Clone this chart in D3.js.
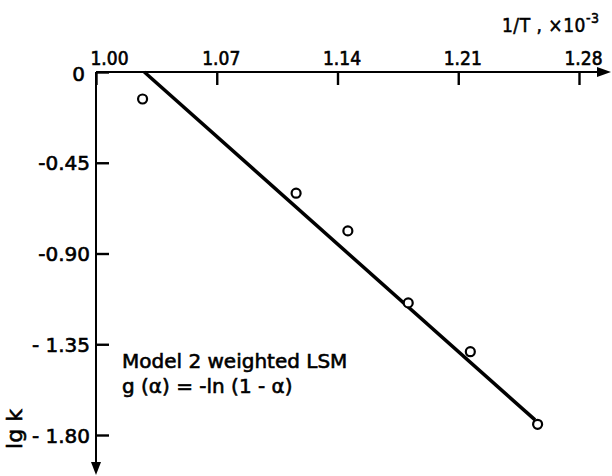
<!DOCTYPE html>
<html>
<head>
<meta charset="utf-8">
<script src="https://cdn.jsdelivr.net/npm/d3@7"></script>
<style>
  body { margin: 0; background: #fff; }
</style>
</head>
<body>
<div id="chart"></div>
<script>
// data
const xTicks = [1.00, 1.07, 1.14, 1.21, 1.28];
const yTicks = [0, -0.45, -0.90, -1.35, -1.80];
const yTickLabels = ['0', '-0.45', '-0.90', '- 1.35', '- 1.80'];
const invT = [1.027, 1.116, 1.146, 1.181, 1.217, 1.256];
const lgk = [-0.134, -0.601, -0.788, -1.145, -1.387, -1.747];
const fitX = [1.028, 1.2545];
const fitY = [0, -1.725];

const width = 612, height = 476;

const svg = d3.select('#chart').append('svg')
  .attr('width', width).attr('height', height);

const x = d3.scaleLinear().domain([1.00, 1.28]).range([96, 579]);
const y = d3.scaleLinear().domain([0, -1.80]).range([72, 435]);

const x0 = x(1.00), y0 = y(0);

// x axis on top; ticks hang down from the line
const xAxis = d3.axisTop(x)
  .tickValues(xTicks)
  .tickFormat(d3.format('.2f'))
  .tickSizeInner(-13)
  .tickSizeOuter(0)
  .tickPadding(7);

const gx = svg.append('g')
  .attr('transform', `translate(0, ${y0})`)
  .call(xAxis);
gx.select('.domain').remove();
gx.selectAll('.tick line')
  .attr('stroke', '#000')
  .attr('stroke-width', 2.4);
gx.selectAll('text')
  .attr('fill', '#000')
  .attr('stroke', '#000')
  .attr('stroke-width', 0.6)
  .style('font-family', '"DejaVu Sans Condensed", "DejaVu Sans", sans-serif')
  .style('font-stretch', 'condensed')
  .style('font-size', '19px')
  .attr('y', -7)
  .attr('dx', d => d === 1.00 ? 13 : 4);

// y axis; ticks point right, labels on the left
const yAxis = d3.axisLeft(y)
  .tickValues(yTicks)
  .tickFormat((d, i) => yTickLabels[i])
  .tickSizeInner(-13)
  .tickSizeOuter(0)
  .tickPadding(6);

const gy = svg.append('g')
  .attr('transform', `translate(${x0}, 0)`)
  .call(yAxis);
gy.select('.domain').remove();
gy.selectAll('.tick line')
  .attr('stroke', '#000')
  .attr('stroke-width', 2.4);
gy.selectAll('text')
  .attr('fill', '#000')
  .attr('stroke', '#000')
  .attr('stroke-width', 0.6)
  .style('font-family', '"DejaVu Sans", sans-serif')
  .style('font-size', '20px')
  .attr('x', -6)
  .attr('dx', d => d === 0 ? -5 : 0)
  .attr('dy', d => d === 0 ? '0.42em' : '0.35em');

// axis titles
svg.append('text')
  .attr('x', 502).attr('y', 32)
  .attr('fill', '#000')
  .attr('stroke', '#000')
  .attr('stroke-width', 0.5)
  .style('font-family', '"DejaVu Sans Condensed", "DejaVu Sans", sans-serif')
  .style('font-stretch', 'condensed')
  .style('font-size', '19px')
  .style('letter-spacing', '0.5px')
  .text('1/T , ×10')
  .append('tspan')
  .attr('dy', -9)
  .style('font-size', '14px')
  .text('-3');

svg.append('text')
  .attr('transform', 'translate(22, 429) rotate(-90)')
  .attr('text-anchor', 'middle')
  .attr('fill', '#000')
  .attr('stroke', '#000')
  .attr('stroke-width', 0.6)
  .style('font-family', '"DejaVu Sans", sans-serif')
  .style('font-size', '22px')
  .text('lg k');

// annotation
const note = svg.append('text')
  .attr('fill', '#000')
  .attr('stroke', '#000')
  .attr('stroke-width', 0.6)
  .style('font-family', '"DejaVu Sans", sans-serif')
  .style('font-size', '20px');
note.append('tspan').attr('x', 122).attr('y', 368).text('Model 2 weighted LSM');
note.append('tspan').attr('x', 122).attr('y', 393).text('g (α) = -ln (1 - α)');

// fitted line
svg.append('path')
  .datum(fitX.map((v, i) => [v, fitY[i]]))
  .attr('d', d3.line().x(d => x(d[0])).y(d => y(d[1])))
  .attr('fill', 'none')
  .attr('stroke', '#000')
  .attr('stroke-width', 3.5);

// data points
svg.selectAll('.pt')
  .data(invT.map((v, i) => [v, lgk[i]]))
  .join('circle')
  .attr('class', 'pt')
  .attr('cx', d => x(d[0]))
  .attr('cy', d => y(d[1]))
  .attr('r', 4.5)
  .attr('fill', '#fff')
  .attr('stroke', '#000')
  .attr('stroke-width', 2.2);

// axis lines with arrows
svg.append('line')
  .attr('x1', x0).attr('y1', y0).attr('x2', width - 8).attr('y2', y0)
  .attr('stroke', '#000').attr('stroke-width', 2);
svg.append('path')
  .attr('d', `M${width - 1},${y0} L${width - 15},${y0 - 5} L${width - 15},${y0 + 5} Z`)
  .attr('fill', '#000');

svg.append('line')
  .attr('x1', x0).attr('y1', y0).attr('x2', x0).attr('y2', height - 8)
  .attr('stroke', '#000').attr('stroke-width', 2);
svg.append('path')
  .attr('d', `M${x0},${height - 1} L${x0 - 5},${height - 14} L${x0 + 5},${height - 14} Z`)
  .attr('fill', '#000');
</script>
</body>
</html>
